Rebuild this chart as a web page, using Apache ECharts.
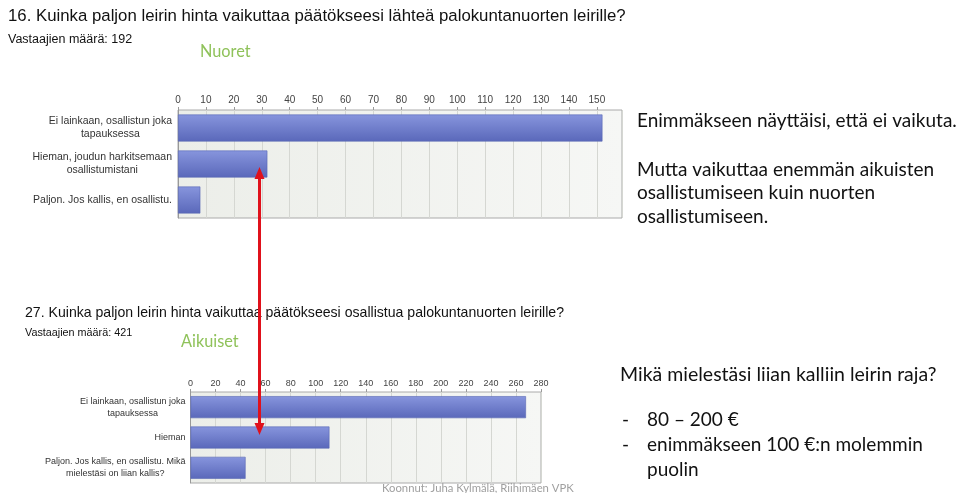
<!DOCTYPE html>
<html>
<head>
<meta charset="utf-8">
<script src="https://cdn.jsdelivr.net/npm/echarts@6/dist/echarts.min.js"></script>
<style>html,body{margin:0;padding:0;background:#fff}#c{width:960px;height:493px}</style>
</head>
<body>
<div id="c"></div>
<script>
// Youth survey (question 16)
const categoriesYouth = ['Ei lainkaan, osallistun joka\ntapauksessa', 'Hieman, joudun harkitsemaan\nosallistumistani', 'Paljon. Jos kallis, en osallistu.'];
const valuesYouth = [152, 32, 8];
const ticksYouth = { min: 0, max: 159, interval: 10 };

// Adult survey (question 27)
const categoriesAdult = ['Ei lainkaan, osallistun joka\ntapauksessa', 'Hieman', 'Paljon. Jos kallis, en osallistu. Mikä\nmielestäsi on liian kallis?'];
const valuesAdult = [268, 111, 44];
const ticksAdult = { min: 0, max: 280, interval: 20 };

const title1 = '16. Kuinka paljon leirin hinta vaikuttaa päätökseesi lähteä palokuntanuorten leirille?';
const count1 = 'Vastaajien määrä: 192';
const title2 = '27. Kuinka paljon leirin hinta vaikuttaa päätökseesi osallistua palokuntanuorten leirille?';
const count2 = 'Vastaajien määrä: 421';
const groupYouth = 'Nuoret';
const groupAdult = 'Aikuiset';
const notes1 = ['Enimmäkseen näyttäisi, että ei vaikuta.', 'Mutta vaikuttaa enemmän aikuisten', 'osallistumiseen kuin nuorten', 'osallistumiseen.'];
const question = 'Mikä mielestäsi liian kalliin leirin raja?';
const bullets = ['80 – 200 €', 'enimmäkseen 100 €:n molemmin', 'puolin'];
const credit = 'Koonnut: Juha Kylmälä, Riihimäen VPK';

const chart = echarts.init(document.getElementById('c'), null, { renderer: 'canvas' });

const barFill = new echarts.graphic.LinearGradient(0, 0, 0, 1, [
  { offset: 0, color: '#8795dd' },
  { offset: 1, color: '#5a68ba' }
]);
const plotBg = new echarts.graphic.LinearGradient(0, 0, 1, 0, [
  { offset: 0, color: '#eceee9' },
  { offset: 1, color: '#f6f7f5' }
]);

function catFormatter(v) {
  return v.split('\n').map(l => '{c|' + l + '}').join('\n');
}

const SANS = '"Liberation Sans", Arial, sans-serif';
const SLIDE = 'Lato, "Open Sans", sans-serif';

function txt(text, x, y, size, color, family, extra) {
  return Object.assign({
    type: 'text', x: x, y: y, z: 50,
    style: { text: text, font: size + 'px ' + family, fill: color, textVerticalAlign: 'middle', verticalAlign: 'middle' }
  }, extra || {});
}

const graphics = [
  txt(title1, 8, 16, 16.8, '#111', SANS),
  txt(count1, 8, 40, 12.5, '#111', SANS),
  txt(groupYouth, 200, 52, 16.3, '#8fc25a', SLIDE),
  txt(title2, 25, 313, 14.1, '#111', SANS),
  txt(count2, 25, 333, 10.8, '#111', SANS),
  txt(groupAdult, 181, 342, 16.3, '#8fc25a', SLIDE),
  txt(notes1[0], 637, 121, 19, '#111', SLIDE),
  txt(notes1[1], 637, 170, 19, '#111', SLIDE),
  txt(notes1[2], 637, 193, 19, '#111', SLIDE),
  txt(notes1[3], 637, 217, 19, '#111', SLIDE),
  txt(question, 620, 375, 19.5, '#111', SLIDE),
  txt('-', 622, 420, 19, '#111', SLIDE),
  txt(bullets[0], 647, 420, 19, '#111', SLIDE),
  txt('-', 622, 445, 19, '#111', SLIDE),
  txt(bullets[1], 647, 445, 19, '#111', SLIDE),
  txt(bullets[2], 647, 470, 19, '#111', SLIDE),
  txt(credit, 382, 488, 11.3, '#a0a0a0', SLIDE),
  // red double arrow linking the "Hieman" bars
  { type: 'line', z: 60, shape: { x1: 259.5, y1: 176, x2: 259.5, y2: 426 }, style: { stroke: '#e0111b', lineWidth: 3 } },
  { type: 'polygon', z: 60, shape: { points: [[259.5, 167], [254.5, 179], [264.5, 179]] }, style: { fill: '#e0111b' } },
  { type: 'polygon', z: 60, shape: { points: [[259.5, 435], [254.5, 423], [264.5, 423]] }, style: { fill: '#e0111b' } }
];

function xAxisDef(idx, t, fs, margin) {
  return {
    type: 'value', gridIndex: idx, position: 'top', min: t.min, max: t.max, interval: t.interval,
    axisLine: { show: false },
    axisTick: { show: true, inside: false, length: 3, lineStyle: { color: '#999' } },
    splitLine: { show: true, lineStyle: { color: '#d5d7d2', width: 1 } },
    axisLabel: { show: true, showMaxLabel: t.max % t.interval === 0, fontSize: fs, color: '#444', fontFamily: SANS, margin: margin }
  };
}
function yAxisDef(idx, cats, fs, lh, margin) {
  return {
    type: 'category', gridIndex: idx, data: cats, inverse: true,
    axisLine: { show: true, lineStyle: { color: '#999' } },
    axisTick: { show: false },
    splitLine: { show: false },
    axisLabel: {
      margin: margin, align: 'right', formatter: catFormatter,
      rich: { c: { align: 'center', fontSize: fs, lineHeight: lh, color: '#333', fontFamily: SANS } }
    }
  };
}

chart.setOption({
  animation: false,
  backgroundColor: '#ffffff',
  grid: [
    { left: 178, top: 110, width: 444, height: 108, show: true, backgroundColor: plotBg, borderColor: '#aaa', borderWidth: 1 },
    { left: 190.5, top: 392, width: 350.5, height: 91, show: true, backgroundColor: plotBg, borderColor: '#aaa', borderWidth: 1 }
  ],
  xAxis: [xAxisDef(0, ticksYouth, 10, 5), xAxisDef(1, ticksAdult, 9, 4)],
  yAxis: [yAxisDef(0, categoriesYouth, 10.5, 13, 6), yAxisDef(1, categoriesAdult, 9, 12, 5)],
  series: [
    { type: 'bar', xAxisIndex: 0, yAxisIndex: 0, data: valuesYouth, barWidth: 27,
      itemStyle: { color: barFill, borderColor: '#5866b3', borderWidth: 0.6 } },
    { type: 'bar', xAxisIndex: 1, yAxisIndex: 1, data: valuesAdult, barWidth: 22,
      itemStyle: { color: barFill, borderColor: '#5866b3', borderWidth: 0.6 } }
  ],
  graphic: graphics
});
</script>
</body>
</html>
